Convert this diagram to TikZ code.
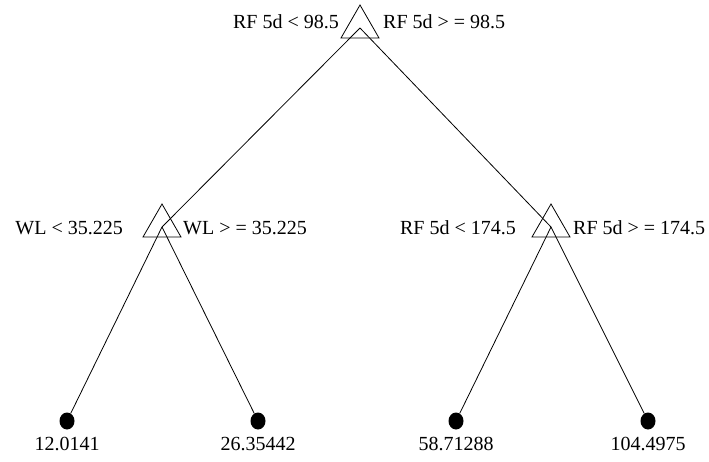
\documentclass[tikz,border=0pt]{standalone}
\usepackage{fontspec}
\setmainfont{Liberation Serif}
\usetikzlibrary{calc,shapes.geometric}
\begin{document}
\begin{tikzpicture}[x=1pt,y=-1pt,
  split/.style={line width=0.8pt},
  edge/.style={line width=0.8pt},
  leaf/.style={ellipse,fill=black,minimum width=15pt,minimum height=17pt,inner sep=0pt},
  lbl/.style={inner sep=0pt,font=\fontsize{20}{24}\selectfont}]
\useasboundingbox (0,0) rectangle (709,462);
% split points
\coordinate (r) at (360,28);
\coordinate (a) at (162,227);
\coordinate (b) at (551,227);
% triangles
\foreach \p in {r,a,b}{
  \draw[split] ($(\p)+(0,-23)$) -- ($(\p)+(-19,10)$) -- ($(\p)+(19,10)$) -- cycle;
}
% leaves
\node[leaf] (l1) at (67,421) {};
\node[leaf] (l2) at (258,421) {};
\node[leaf] (l3) at (456,421) {};
\node[leaf] (l4) at (648,421) {};
% edges
\draw[edge] (r) -- (a);
\draw[edge] (r) -- (b);
\draw[edge] (a) -- (l1);
\draw[edge] (a) -- (l2);
\draw[edge] (b) -- (l3);
\draw[edge] (b) -- (l4);
% labels
\node[lbl,anchor=east] (t1) at (339,22) {RF 5d < 98.5};
\node[lbl,anchor=west] (t2) at (383,22) {RF 5d > = 98.5};
\node[lbl,anchor=east] (t3) at (123,228) {WL < 35.225};
\node[lbl,anchor=west] (t4) at (183,228) {WL > = 35.225};
\node[lbl,anchor=east] (t5) at (516,228) {RF 5d < 174.5};
\node[lbl,anchor=west] (t6) at (573,228) {RF 5d > = 174.5};
\node[lbl] (v1) at (67,444) {12.0141};
\node[lbl] (v2) at (258,444) {26.35442};
\node[lbl] (v3) at (456,444) {58.71288};
\node[lbl] (v4) at (648,444) {104.4975};
\end{tikzpicture}
\end{document}
